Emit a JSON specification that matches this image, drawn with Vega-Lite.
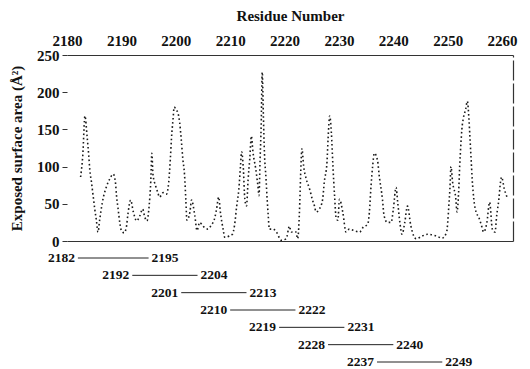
{
  "$schema": "https://vega.github.io/schema/vega-lite/v6.json",
  "background": "white",
  "padding": {"left": 9, "top": 8, "right": 5, "bottom": 0},
  "bounds": "flush",
  "spacing": 17,
  "config": {
    "font": "Liberation Serif",
    "view": {"stroke": null},
    "axis": {"labelFont": "Liberation Serif", "titleFont": "Liberation Serif", "labelFontWeight": "bold", "titleFontWeight": "bold", "labelFontSize": 15, "titleFontSize": 15, "labelColor": "#111", "titleColor": "#111", "grid": false}
  },
  "datasets": {
    "series": [
      {"residue": 2182.5, "area": 86}, {"residue": 2182.9, "area": 115}, {"residue": 2183.3, "area": 168},
      {"residue": 2183.7, "area": 140}, {"residue": 2184.0, "area": 115}, {"residue": 2184.2, "area": 95},
      {"residue": 2184.5, "area": 79}, {"residue": 2184.8, "area": 61}, {"residue": 2185.1, "area": 43},
      {"residue": 2185.4, "area": 28}, {"residue": 2185.7, "area": 12}, {"residue": 2186.0, "area": 28},
      {"residue": 2186.5, "area": 52}, {"residue": 2187.3, "area": 74}, {"residue": 2187.9, "area": 84},
      {"residue": 2188.5, "area": 90}, {"residue": 2188.9, "area": 79}, {"residue": 2189.1, "area": 61},
      {"residue": 2189.4, "area": 43}, {"residue": 2189.7, "area": 25}, {"residue": 2190.0, "area": 14},
      {"residue": 2190.5, "area": 11}, {"residue": 2190.9, "area": 18}, {"residue": 2191.2, "area": 36},
      {"residue": 2191.7, "area": 55}, {"residue": 2192.2, "area": 39}, {"residue": 2192.8, "area": 27},
      {"residue": 2193.4, "area": 34}, {"residue": 2193.9, "area": 43}, {"residue": 2194.3, "area": 32},
      {"residue": 2194.7, "area": 27}, {"residue": 2195.1, "area": 47}, {"residue": 2195.4, "area": 80},
      {"residue": 2195.6, "area": 118}, {"residue": 2195.8, "area": 90}, {"residue": 2196.3, "area": 74},
      {"residue": 2196.7, "area": 65}, {"residue": 2197.0, "area": 59}, {"residue": 2197.7, "area": 65},
      {"residue": 2198.3, "area": 63}, {"residue": 2198.7, "area": 79}, {"residue": 2199.0, "area": 110},
      {"residue": 2199.2, "area": 137}, {"residue": 2199.5, "area": 164}, {"residue": 2199.7, "area": 180},
      {"residue": 2200.1, "area": 176}, {"residue": 2200.4, "area": 172}, {"residue": 2200.7, "area": 160},
      {"residue": 2201.0, "area": 137}, {"residue": 2201.3, "area": 110}, {"residue": 2201.6, "area": 90},
      {"residue": 2201.85, "area": 55}, {"residue": 2202.05, "area": 28}, {"residue": 2202.6, "area": 39},
      {"residue": 2202.9, "area": 55}, {"residue": 2203.5, "area": 34}, {"residue": 2203.9, "area": 14},
      {"residue": 2204.4, "area": 25}, {"residue": 2205.0, "area": 20}, {"residue": 2205.9, "area": 16},
      {"residue": 2206.5, "area": 21}, {"residue": 2207.2, "area": 32}, {"residue": 2207.5, "area": 43},
      {"residue": 2207.9, "area": 59}, {"residue": 2208.2, "area": 39}, {"residue": 2208.7, "area": 16},
      {"residue": 2209.0, "area": 5}, {"residue": 2209.9, "area": 7}, {"residue": 2210.4, "area": 9},
      {"residue": 2210.8, "area": 21}, {"residue": 2211.2, "area": 47}, {"residue": 2211.6, "area": 70},
      {"residue": 2211.9, "area": 101}, {"residue": 2212.1, "area": 120}, {"residue": 2212.4, "area": 100},
      {"residue": 2212.7, "area": 56}, {"residue": 2213.0, "area": 47}, {"residue": 2213.3, "area": 83},
      {"residue": 2213.6, "area": 110}, {"residue": 2213.9, "area": 141}, {"residue": 2214.2, "area": 119},
      {"residue": 2214.7, "area": 97}, {"residue": 2215.1, "area": 74}, {"residue": 2215.3, "area": 61},
      {"residue": 2215.5, "area": 110}, {"residue": 2215.7, "area": 155}, {"residue": 2215.9, "area": 227},
      {"residue": 2216.1, "area": 170}, {"residue": 2216.3, "area": 119}, {"residue": 2216.6, "area": 83},
      {"residue": 2216.8, "area": 56}, {"residue": 2217.0, "area": 34}, {"residue": 2217.2, "area": 16},
      {"residue": 2217.9, "area": 16}, {"residue": 2218.5, "area": 12}, {"residue": 2219.4, "area": 1},
      {"residue": 2220.3, "area": 3}, {"residue": 2220.9, "area": 20}, {"residue": 2221.2, "area": 12},
      {"residue": 2222.1, "area": 12}, {"residue": 2222.4, "area": 3}, {"residue": 2222.8, "area": 52},
      {"residue": 2222.95, "area": 88}, {"residue": 2223.2, "area": 124}, {"residue": 2223.5, "area": 101},
      {"residue": 2224.0, "area": 83}, {"residue": 2224.6, "area": 70}, {"residue": 2225.1, "area": 56},
      {"residue": 2225.5, "area": 47}, {"residue": 2225.8, "area": 39}, {"residue": 2226.4, "area": 43},
      {"residue": 2227.0, "area": 56}, {"residue": 2227.3, "area": 79}, {"residue": 2227.8, "area": 106},
      {"residue": 2228.0, "area": 137}, {"residue": 2228.3, "area": 168}, {"residue": 2228.6, "area": 146},
      {"residue": 2228.9, "area": 100}, {"residue": 2229.2, "area": 60}, {"residue": 2229.5, "area": 30},
      {"residue": 2229.8, "area": 28}, {"residue": 2230.1, "area": 56}, {"residue": 2230.7, "area": 39},
      {"residue": 2231.3, "area": 12}, {"residue": 2231.9, "area": 16}, {"residue": 2232.8, "area": 14},
      {"residue": 2233.8, "area": 12}, {"residue": 2234.4, "area": 18}, {"residue": 2235.3, "area": 23},
      {"residue": 2235.6, "area": 39}, {"residue": 2235.9, "area": 74}, {"residue": 2236.2, "area": 101},
      {"residue": 2236.5, "area": 118}, {"residue": 2237.1, "area": 108}, {"residue": 2237.4, "area": 88},
      {"residue": 2238.0, "area": 56}, {"residue": 2238.3, "area": 34}, {"residue": 2238.9, "area": 25},
      {"residue": 2239.6, "area": 25}, {"residue": 2240.0, "area": 43}, {"residue": 2240.5, "area": 72},
      {"residue": 2240.8, "area": 52}, {"residue": 2241.2, "area": 25}, {"residue": 2241.6, "area": 9},
      {"residue": 2242.1, "area": 25}, {"residue": 2242.6, "area": 47}, {"residue": 2243.2, "area": 21},
      {"residue": 2244.2, "area": 3}, {"residue": 2245.4, "area": 7}, {"residue": 2246.3, "area": 9},
      {"residue": 2247.8, "area": 7}, {"residue": 2249.0, "area": 4}, {"residue": 2249.8, "area": 12},
      {"residue": 2250.0, "area": 25}, {"residue": 2250.2, "area": 47}, {"residue": 2250.4, "area": 70},
      {"residue": 2250.6, "area": 100}, {"residue": 2250.9, "area": 79}, {"residue": 2251.5, "area": 56},
      {"residue": 2251.7, "area": 39}, {"residue": 2252.0, "area": 65}, {"residue": 2252.2, "area": 101},
      {"residue": 2252.4, "area": 128}, {"residue": 2252.6, "area": 150}, {"residue": 2252.9, "area": 166},
      {"residue": 2253.3, "area": 177}, {"residue": 2253.6, "area": 188}, {"residue": 2253.9, "area": 164},
      {"residue": 2254.1, "area": 137}, {"residue": 2254.3, "area": 110}, {"residue": 2254.5, "area": 83},
      {"residue": 2254.8, "area": 56}, {"residue": 2255.2, "area": 39}, {"residue": 2255.7, "area": 32},
      {"residue": 2256.2, "area": 21}, {"residue": 2256.6, "area": 12}, {"residue": 2257.2, "area": 25},
      {"residue": 2257.7, "area": 52}, {"residue": 2258.2, "area": 16}, {"residue": 2258.7, "area": 12},
      {"residue": 2259.0, "area": 34}, {"residue": 2259.4, "area": 56}, {"residue": 2259.7, "area": 79},
      {"residue": 2259.9, "area": 86}, {"residue": 2260.4, "area": 70}, {"residue": 2260.9, "area": 59}
    ],
    "fragments": [
      {"fragment": "2182-2195", "start": 2182, "end": 2195},
      {"fragment": "2192-2204", "start": 2192, "end": 2204},
      {"fragment": "2201-2213", "start": 2201, "end": 2213},
      {"fragment": "2210-2222", "start": 2210, "end": 2222},
      {"fragment": "2219-2231", "start": 2219, "end": 2231},
      {"fragment": "2228-2240", "start": 2228, "end": 2240},
      {"fragment": "2237-2249", "start": 2237, "end": 2249}
    ]
  },
  "vconcat": [
    {
      "width": 446,
      "height": 186,
      "data": {"name": "series"},
      "layer": [
        {
          "mark": {"type": "line", "interpolate": "monotone", "color": "#1a1a1a", "strokeWidth": 1.6, "strokeDash": [1.6, 2.6]},
          "encoding": {
            "x": {"field": "residue", "type": "quantitative",
              "scale": {"domain": [2180, 2262], "nice": false, "zero": false},
              "axis": {"orient": "top", "title": "Residue Number", "values": [2180, 2190, 2200, 2210, 2220, 2230, 2240, 2250, 2260], "format": "d", "ticks": false, "labelPadding": 7, "titlePadding": 10, "domain": true, "domainColor": "#333", "domainWidth": 1.2, "labelFlush": false, "labelOverlap": false}},
            "y": {"field": "area", "type": "quantitative",
              "scale": {"domain": [0, 250], "nice": false, "zero": true},
              "axis": {"orient": "left", "title": "Exposed surface area (Å²)", "values": [0, 50, 100, 150, 200, 250], "tickCount": 6, "format": "d", "domain": false, "ticks": true, "tickSize": 5, "tickColor": "#333", "labelPadding": 3, "titlePadding": 12, "labelOverlap": false, "labelFlush": false}}
          }
        },
        {
          "mark": {"type": "line", "opacity": 0},
          "encoding": {
            "x": {"field": "residue", "type": "quantitative",
              "axis": {"orient": "bottom", "title": null, "labels": false, "ticks": false, "domain": true, "domainColor": "#333", "domainWidth": 1.2}},
            "y": {"field": "area", "type": "quantitative",
              "axis": {"orient": "right", "title": null, "labels": false, "ticks": false, "domain": true, "domainColor": "#333", "domainWidth": 1.2, "domainDash": [20, 3]}}
          }
        }
      ],
      "resolve": {"axis": {"x": "independent", "y": "independent"}}
    },
    {
      "width": 446,
      "height": 104,
      "data": {"name": "fragments"},
      "encoding": {
        "y": {"field": "fragment", "type": "nominal", "scale": {"type": "point", "padding": 0}, "axis": null}
      },
      "layer": [
        {
          "mark": {"type": "rule", "color": "#222", "strokeWidth": 1},
          "encoding": {
            "x": {"field": "start", "type": "quantitative", "axis": null},
            "x2": {"field": "end"}
          }
        },
        {
          "mark": {"type": "text", "align": "right", "baseline": "middle", "dx": -3, "fontSize": 13.5, "fontWeight": "bold", "font": "Liberation Serif", "color": "#111"},
          "encoding": {
            "x": {"field": "start", "type": "quantitative"},
            "text": {"field": "start", "type": "quantitative", "format": "d"}
          }
        },
        {
          "mark": {"type": "text", "align": "left", "baseline": "middle", "dx": 3, "fontSize": 13.5, "fontWeight": "bold", "font": "Liberation Serif", "color": "#111"},
          "encoding": {
            "x": {"field": "end", "type": "quantitative"},
            "text": {"field": "end", "type": "quantitative", "format": "d"}
          }
        }
      ]
    }
  ],
  "resolve": {"scale": {"x": "shared"}}
}
